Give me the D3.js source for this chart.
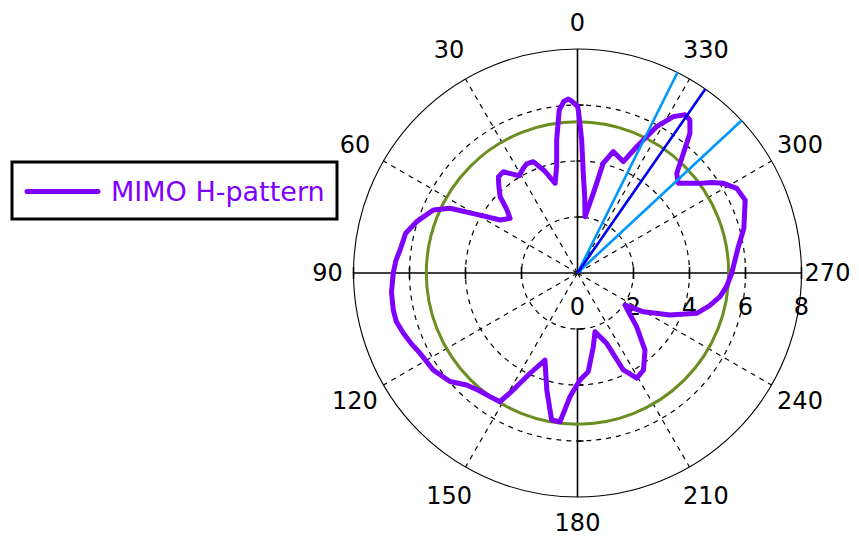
<!DOCTYPE html>
<html>
<head>
<meta charset="utf-8">
<script src="https://cdn.jsdelivr.net/npm/d3@7"></script>
<style>
  html, body { margin: 0; padding: 0; background: #fff; }
  svg { display: block; }
  text { font-family: "DejaVu Sans", Verdana, sans-serif; }
</style>
</head>
<body>
<svg id="chart" width="859" height="540"></svg>
<script>
// ---- data (angle in degrees, counter-clockwise from top; gain values) ----
const seriesName = "MIMO H-pattern";
const patternAngles = [
  0, 2, 3, 4.5, 6.4, 8.9, 11, 14, 18, 21.7, 25, 27.4, 31, 33, 36.2, 39.4, 42, 45.4, 48, 51,
  55.6, 59.3, 63.1, 66.4, 72.3, 77, 82.6, 86, 90, 96, 101.4, 105, 109.1, 113, 117, 123.9,
  130.4, 135.3, 140, 144.7, 148.9, 151.2, 154.7, 159.5, 165.3, 170, 173.3, 176.5, 181.3,
  186.2, 192.1, 196.6, 202.5, 205.3, 209.4, 214.2, 221.2, 227.8, 234.3, 236, 239.5, 245.6,
  251.3, 256, 260.6, 265, 270, 279.3, 285, 291.6, 293.5, 298, 301.6, 304, 306.2, 309, 311.7,
  315.1, 318.5, 321.2, 323.7, 325.8, 328.5, 331.6, 334.9, 337.6, 343.6, 346.8, 348.8, 352.4,
  354.5, 356.7, 358.2, 359.7
];
const patternValues = [
  5.95, 6.15, 6.22, 6.15, 5.86, 4.81, 3.9, 3.3, 3.85, 4.28, 4.3, 4.21, 4.05, 4.2, 4.48, 4.45, 4.2, 3.88, 3.4, 3.1,
  3.35, 4.05, 5.11, 5.62, 6.03, 6.3, 6.39, 6.5, 6.58, 6.68, 6.71, 6.7, 6.58, 6.45, 6.31, 6.21,
  5.98, 5.63, 5.48, 5.41, 5.37, 4.77, 3.96, 3.32, 4.32, 5.33, 5.35, 4.43, 3.82,
  3.55, 2.69, 2.19, 2.72, 3.83, 4.31, 4.19, 3.66, 2.85, 2.16, 2.05, 2.73, 3.63,
  4.49, 4.85, 5.16, 5.35, 5.51, 5.82, 6.15, 6.43, 6.53, 6.44, 6.11, 5.78, 5.42, 5.1, 4.82,
  5.02, 5.71, 6.41, 6.78, 6.83, 6.55, 5.94, 4.98, 4.3, 4.52, 4.03, 2.9, 2.03,
  2.7, 3.57, 4.75, 5.82
];
const referenceLevel = [5.4];                 // green circle
const beamAngle = [325.2];                    // dark blue line
const halfPowerAngles = [333.5, 312.9];       // light blue lines
const beamLength = 8;
const angleTicks = [0, 30, 60, 90, 120, 150, 180, 210, 240, 270, 300, 330];
const radialTicks = [0, 2, 4, 6, 8];
const radialMax = 8;

// ---- layout ----
const cx = 577.5, cy = 273, R = 224;
const svg = d3.select("#chart");
const r = d3.scaleLinear().domain([0, radialMax]).range([0, R]);
const toRad = d => -d * Math.PI / 180;   // CCW degrees -> d3 radial angle
const px = (deg, v) => cx - r(v) * Math.sin(deg * Math.PI / 180);
const py = (deg, v) => cy - r(v) * Math.cos(deg * Math.PI / 180);

const g = svg.append("g");

// dashed grid circles
g.selectAll("circle.grid").data(radialTicks.filter(d => d > 0 && d < radialMax)).join("circle")
  .attr("cx", cx).attr("cy", cy).attr("r", d => r(d))
  .attr("fill", "none").attr("stroke", "#000").attr("stroke-width", 1.2)
  .attr("stroke-dasharray", "5,5");

// dashed spokes
g.selectAll("line.spoke").data(angleTicks.filter(d => d % 90 !== 0)).join("line")
  .attr("x1", cx).attr("y1", cy)
  .attr("x2", d => px(d, radialMax)).attr("y2", d => py(d, radialMax))
  .attr("stroke", "#000").attr("stroke-width", 1.2).attr("stroke-dasharray", "5,5");

// outer circle
g.append("circle").attr("cx", cx).attr("cy", cy).attr("r", r(radialMax))
  .attr("fill", "none").attr("stroke", "#000").attr("stroke-width", 1.1);

// solid axes
g.append("line").attr("x1", cx - r(radialMax)).attr("x2", cx + r(radialMax))
  .attr("y1", cy).attr("y2", cy).attr("stroke", "#000").attr("stroke-width", 1.6);
g.append("line").attr("x1", cx).attr("x2", cx)
  .attr("y1", cy - r(radialMax)).attr("y2", cy).attr("stroke", "#000").attr("stroke-width", 1.6);
g.append("line").attr("x1", cx).attr("x2", cx)
  .attr("y1", cy + r(2)).attr("y2", cy + r(radialMax)).attr("stroke", "#000").attr("stroke-width", 1.6);

// axis ticks
const tv = radialTicks.filter(d => d > 0);
g.selectAll("line.htick").data(tv.flatMap(d => [d, -d])).join("line")
  .attr("x1", d => cx + Math.sign(d) * r(Math.abs(d))).attr("x2", d => cx + Math.sign(d) * r(Math.abs(d)))
  .attr("y1", cy - 6).attr("y2", cy + 6).attr("stroke", "#000").attr("stroke-width", 1.6);
g.selectAll("line.vtick").data(tv.filter(d => d < radialMax).flatMap(d => [d, -d])).join("line")
  .attr("y1", d => cy + Math.sign(d) * r(Math.abs(d))).attr("y2", d => cy + Math.sign(d) * r(Math.abs(d)))
  .attr("x1", cx - 1).attr("x2", cx + 6).attr("stroke", "#000").attr("stroke-width", 1.6);

// angle labels
g.selectAll("text.ang").data(angleTicks).join("text")
  .attr("x", d => cx - (250 + 8 * Math.abs(Math.sin(2 * d * Math.PI / 180))) * Math.sin(d * Math.PI / 180))
  .attr("y", d => cy - (250 + 8 * Math.abs(Math.sin(2 * d * Math.PI / 180))) * Math.cos(d * Math.PI / 180))
  .attr("text-anchor", "middle").attr("dominant-baseline", "central")
  .attr("font-size", 24).attr("fill", "#000").text(d => d);

// radial labels
g.selectAll("text.rad").data(radialTicks).join("text")
  .attr("x", d => cx + r(d)).attr("y", cy + 34)
  .attr("text-anchor", "middle").attr("dominant-baseline", "central")
  .attr("font-size", 24).attr("fill", "#000").text(d => d);

// reference circle
g.selectAll("circle.ref").data(referenceLevel).join("circle")
  .attr("cx", cx).attr("cy", cy).attr("r", d => r(d))
  .attr("fill", "none").attr("stroke", "#6b8e23").attr("stroke-width", 3);

// pattern
const pts = patternAngles.map((a, i) => [toRad(a), r(patternValues[i])]);
const radial = d3.lineRadial().curve(d3.curveLinearClosed);
g.append("path").attr("transform", `translate(${cx},${cy})`)
  .attr("d", radial(pts)).attr("fill", "none")
  .attr("stroke", "#8000ff").attr("stroke-width", 5).attr("stroke-linejoin", "round");

// beam lines
g.selectAll("line.hp").data(halfPowerAngles).join("line")
  .attr("x1", cx).attr("y1", cy)
  .attr("x2", d => px(d, beamLength)).attr("y2", d => py(d, beamLength))
  .attr("stroke", "#0096ff").attr("stroke-width", 2.6);
g.selectAll("line.beam").data(beamAngle).join("line")
  .attr("x1", cx).attr("y1", cy)
  .attr("x2", d => px(d, beamLength)).attr("y2", d => py(d, beamLength))
  .attr("stroke", "#0000ee").attr("stroke-width", 2.6);

// legend
const lg = svg.append("g");
lg.append("rect").attr("x", 12).attr("y", 162).attr("width", 325).attr("height", 57)
  .attr("fill", "#fff").attr("stroke", "#000").attr("stroke-width", 3);
lg.append("line").attr("x1", 27).attr("x2", 98).attr("y1", 191.5).attr("y2", 191.5)
  .attr("stroke", "#8000ff").attr("stroke-width", 5).attr("stroke-linecap", "round");
lg.append("text").attr("x", 111).attr("y", 191.5).attr("dominant-baseline", "central")
  .attr("font-size", 27).attr("fill", "#8000ff").text(seriesName);
</script>
</body>
</html>
